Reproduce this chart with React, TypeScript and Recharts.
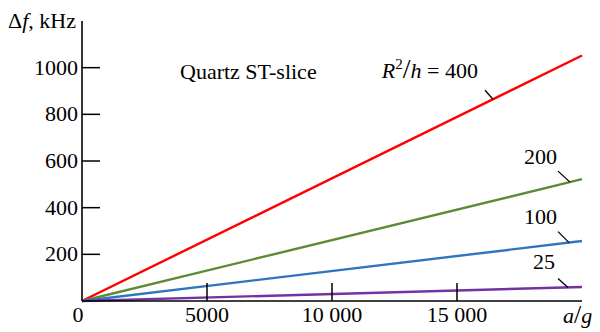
import React from "react";
import { LineChart, Line, XAxis, YAxis, ReferenceDot } from "recharts";

// a/g values and the frequency shift for each R^2/h
const aOverG = [0, 20000];
const shift400 = [0, 1052];
const shift200 = [0, 522];
const shift100 = [0, 257];
const shift25 = [0, 60];

const xTicks = [0, 5000, 10000, 15000];
const yTicks = [200, 400, 600, 800, 1000];

const FONT = "'Liberation Serif', serif";
const FS = 22;
const txt = { fontFamily: FONT, fontSize: FS, fill: "#000" };

const data = aOverG.map((x, i) => ({
  x,
  s400: shift400[i],
  s200: shift200[i],
  s100: shift100[i],
  s25: shift25[i]
}));

const fmt = (v: number) => (v >= 10000 ? `${Math.floor(v / 1000)} ${String(v % 1000).padStart(3, "0")}` : String(v));

const XTick = (props: any) => {
  const { x, y, payload } = props;
  const v = payload.value;
  return (
    <g>
      {v !== 0 && <line x1={x} y1={y} x2={x} y2={y - 18} stroke="#000" strokeWidth={1.5} />}
      <text x={v === 0 ? x - 4 : x} y={y + 21} textAnchor="middle" style={txt}>
        {fmt(v)}
      </text>
    </g>
  );
};

const YTick = (props: any) => {
  const { x, y, payload } = props;
  return (
    <g>
      <line x1={x} y1={y} x2={x + 18} y2={y} stroke="#000" strokeWidth={1.5} />
      <text x={x - 4} y={y + 7} textAnchor="end" style={txt}>
        {payload.value}
      </text>
    </g>
  );
};

// leader line + label, anchored on the line
const leader = (label: React.ReactNode, lx: number, ly: number, tx: number, ty: number) => (props: any) => {
  const { cx, cy } = props;
  return (
    <g>
      <line x1={cx + lx} y1={cy + ly} x2={cx} y2={cy} stroke="#000" strokeWidth={1.3} />
      <text x={cx + tx} y={cy + ty} textAnchor="end" style={txt}>
        {label}
      </text>
    </g>
  );
};

const at = (arr: number[], x: number) => arr[0] + ((arr[1] - arr[0]) * (x - aOverG[0])) / (aOverG[1] - aOverG[0]);

const r2hLabel = (
  <>
    <tspan fontStyle="italic">R</tspan>
    <tspan dy={-9} style={{ fontSize: 15 }}>2</tspan>
    <tspan dy={9} style={{ fontSize: 28 }}>/</tspan>
    <tspan fontStyle="italic">h</tspan>
    <tspan> = 400</tspan>
  </>
);

export default function App() {
  return (
    <div style={{ position: "absolute", left: 0, top: 0, width: 600, height: 332, background: "#fff", fontFamily: FONT }}>
      <LineChart width={600} height={332} data={data} margin={{ top: 21, right: 18, bottom: 0, left: 22 }}>
        <XAxis
          dataKey="x"
          type="number"
          domain={[0, 20000]}
          ticks={xTicks}
          tick={<XTick />}
          tickSize={0}
          tickMargin={0}
          height={31}
          axisLine={{ stroke: "#000", strokeWidth: 1.6 }}
        />
        <YAxis
          type="number"
          domain={[0, 1200]}
          ticks={yTicks}
          tick={<YTick />}
          tickSize={0}
          tickMargin={0}
          width={60}
          axisLine={{ stroke: "#000", strokeWidth: 1.6 }}
        />
        <Line dataKey="s400" stroke="#ff0000" strokeWidth={2.4} dot={false} isAnimationActive={false} />
        <Line dataKey="s200" stroke="#5b8c35" strokeWidth={2.4} dot={false} isAnimationActive={false} />
        <Line dataKey="s100" stroke="#2e75bd" strokeWidth={2.4} dot={false} isAnimationActive={false} />
        <Line dataKey="s25" stroke="#7232a2" strokeWidth={2.4} dot={false} isAnimationActive={false} />
        <ReferenceDot x={16440} y={at(shift400, 16440)} shape={leader(r2hLabel, -8, -9, -15, -21)} />
        <ReferenceDot x={19520} y={at(shift200, 19520)} shape={leader("200", -12, -11, -13, -18)} />
        <ReferenceDot x={19480} y={at(shift100, 19480)} shape={leader("100", -11, -11, -12, -19)} />
        <ReferenceDot x={19440} y={at(shift25, 19440)} shape={leader("25", -10, -9, -13, -18)} />
      </LineChart>
      <svg width={600} height={332} style={{ position: "absolute", left: 0, top: 0, pointerEvents: "none" }}>
        <text x={8} y={28} style={txt}>
          Δ<tspan fontStyle="italic">f</tspan>, kHz
        </text>
        <text x={180} y={79} style={txt}>
          Quartz ST-slice
        </text>
        <text x={563} y={323} style={txt}>
          <tspan fontStyle="italic">a</tspan>
          <tspan style={{ fontSize: 26 }}>/</tspan>
          <tspan fontStyle="italic">g</tspan>
        </text>
      </svg>
    </div>
  );
}
